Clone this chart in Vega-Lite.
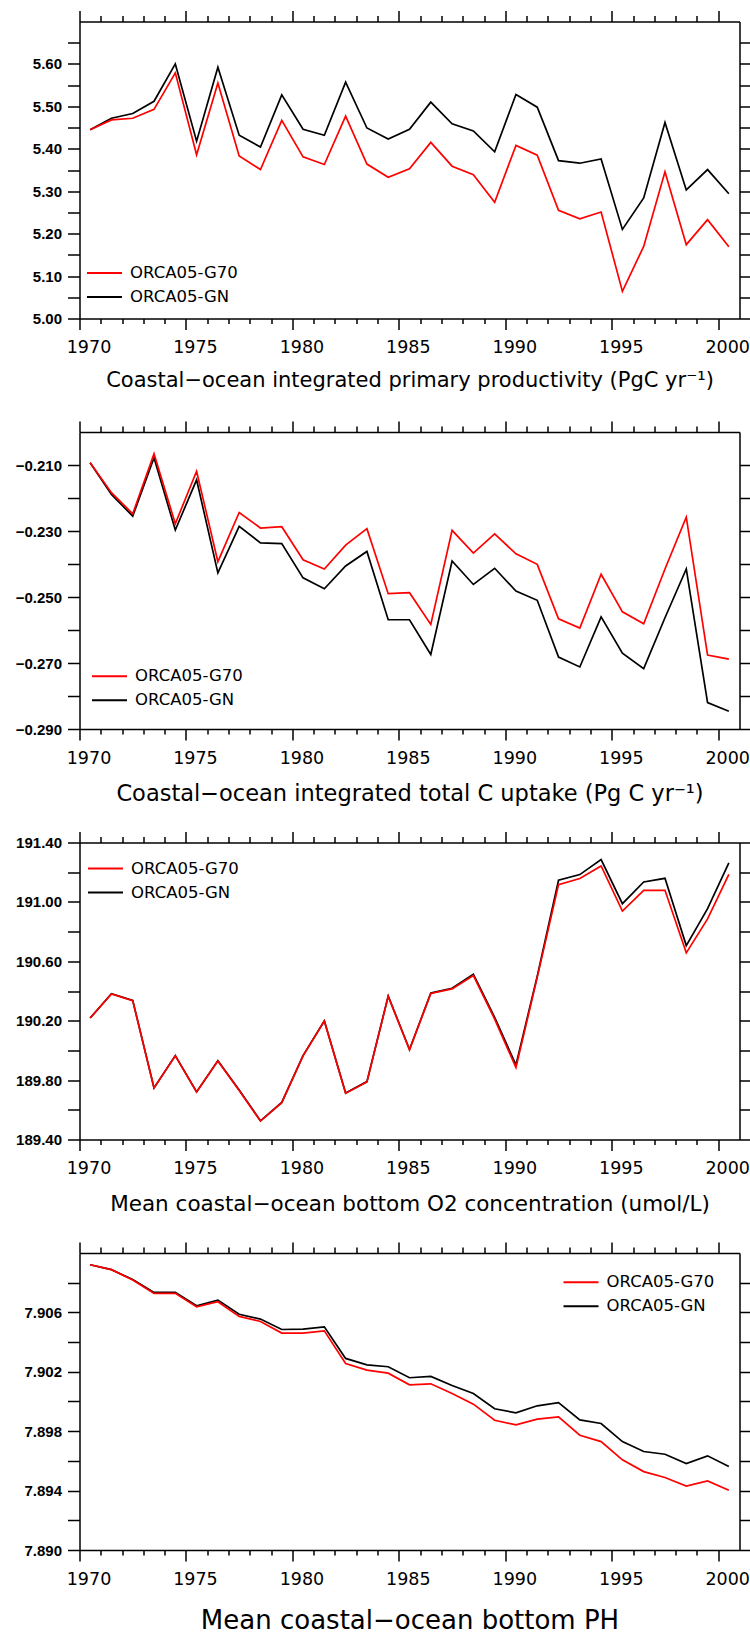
{
  "$schema": "https://vega.github.io/schema/vega-lite/v6.json",
  "padding": {"left": 14.5, "top": 9.5, "right": 0, "bottom": 0},
  "autosize": {"type": "pad"},
  "background": "white",
  "datasets": {
    "pp": [
      {"t": 1970.5, "ORCA05-G70": 5.445, "ORCA05-GN": 5.445},
      {"t": 1971.5, "ORCA05-G70": 5.468, "ORCA05-GN": 5.472},
      {"t": 1972.5, "ORCA05-G70": 5.472, "ORCA05-GN": 5.483},
      {"t": 1973.5, "ORCA05-G70": 5.493, "ORCA05-GN": 5.512},
      {"t": 1974.5, "ORCA05-G70": 5.579, "ORCA05-GN": 5.600},
      {"t": 1975.5, "ORCA05-G70": 5.386, "ORCA05-GN": 5.418},
      {"t": 1976.5, "ORCA05-G70": 5.555, "ORCA05-GN": 5.592},
      {"t": 1977.5, "ORCA05-G70": 5.383, "ORCA05-GN": 5.432},
      {"t": 1978.5, "ORCA05-G70": 5.351, "ORCA05-GN": 5.404},
      {"t": 1979.5, "ORCA05-G70": 5.467, "ORCA05-GN": 5.527},
      {"t": 1980.5, "ORCA05-G70": 5.381, "ORCA05-GN": 5.446},
      {"t": 1981.5, "ORCA05-G70": 5.363, "ORCA05-GN": 5.432},
      {"t": 1982.5, "ORCA05-G70": 5.477, "ORCA05-GN": 5.557},
      {"t": 1983.5, "ORCA05-G70": 5.364, "ORCA05-GN": 5.449},
      {"t": 1984.5, "ORCA05-G70": 5.333, "ORCA05-GN": 5.423},
      {"t": 1985.5, "ORCA05-G70": 5.353, "ORCA05-GN": 5.446},
      {"t": 1986.5, "ORCA05-G70": 5.415, "ORCA05-GN": 5.510},
      {"t": 1987.5, "ORCA05-G70": 5.359, "ORCA05-GN": 5.459},
      {"t": 1988.5, "ORCA05-G70": 5.339, "ORCA05-GN": 5.442},
      {"t": 1989.5, "ORCA05-G70": 5.274, "ORCA05-GN": 5.393},
      {"t": 1990.5, "ORCA05-G70": 5.408, "ORCA05-GN": 5.528},
      {"t": 1991.5, "ORCA05-G70": 5.385, "ORCA05-GN": 5.498},
      {"t": 1992.5, "ORCA05-G70": 5.255, "ORCA05-GN": 5.372},
      {"t": 1993.5, "ORCA05-G70": 5.235, "ORCA05-GN": 5.366},
      {"t": 1994.5, "ORCA05-G70": 5.251, "ORCA05-GN": 5.376},
      {"t": 1995.5, "ORCA05-G70": 5.064, "ORCA05-GN": 5.210},
      {"t": 1996.5, "ORCA05-G70": 5.170, "ORCA05-GN": 5.284},
      {"t": 1997.5, "ORCA05-G70": 5.346, "ORCA05-GN": 5.462},
      {"t": 1998.5, "ORCA05-G70": 5.174, "ORCA05-GN": 5.303},
      {"t": 1999.5, "ORCA05-G70": 5.233, "ORCA05-GN": 5.351},
      {"t": 2000.5, "ORCA05-G70": 5.169, "ORCA05-GN": 5.294}
    ],
    "cu": [
      {"t": 1970.5, "ORCA05-G70": -0.2093, "ORCA05-GN": -0.2093},
      {"t": 1971.5, "ORCA05-G70": -0.2184, "ORCA05-GN": -0.2189},
      {"t": 1972.5, "ORCA05-G70": -0.2248, "ORCA05-GN": -0.2255},
      {"t": 1973.5, "ORCA05-G70": -0.2066, "ORCA05-GN": -0.2078},
      {"t": 1974.5, "ORCA05-G70": -0.2278, "ORCA05-GN": -0.2297},
      {"t": 1975.5, "ORCA05-G70": -0.2119, "ORCA05-GN": -0.2145},
      {"t": 1976.5, "ORCA05-G70": -0.2393, "ORCA05-GN": -0.2427},
      {"t": 1977.5, "ORCA05-G70": -0.2244, "ORCA05-GN": -0.2286},
      {"t": 1978.5, "ORCA05-G70": -0.2291, "ORCA05-GN": -0.2336},
      {"t": 1979.5, "ORCA05-G70": -0.2287, "ORCA05-GN": -0.2338},
      {"t": 1980.5, "ORCA05-G70": -0.2387, "ORCA05-GN": -0.2442},
      {"t": 1981.5, "ORCA05-G70": -0.2415, "ORCA05-GN": -0.2475},
      {"t": 1982.5, "ORCA05-G70": -0.2343, "ORCA05-GN": -0.2406},
      {"t": 1983.5, "ORCA05-G70": -0.2293, "ORCA05-GN": -0.2362},
      {"t": 1984.5, "ORCA05-G70": -0.2490, "ORCA05-GN": -0.2569},
      {"t": 1985.5, "ORCA05-G70": -0.2487, "ORCA05-GN": -0.2569},
      {"t": 1986.5, "ORCA05-G70": -0.2583, "ORCA05-GN": -0.2674},
      {"t": 1987.5, "ORCA05-G70": -0.2298, "ORCA05-GN": -0.2391},
      {"t": 1988.5, "ORCA05-G70": -0.2367, "ORCA05-GN": -0.2462},
      {"t": 1989.5, "ORCA05-G70": -0.2309, "ORCA05-GN": -0.2413},
      {"t": 1990.5, "ORCA05-G70": -0.2369, "ORCA05-GN": -0.2482},
      {"t": 1991.5, "ORCA05-G70": -0.2401, "ORCA05-GN": -0.2510},
      {"t": 1992.5, "ORCA05-G70": -0.2566, "ORCA05-GN": -0.2682},
      {"t": 1993.5, "ORCA05-G70": -0.2594, "ORCA05-GN": -0.2712},
      {"t": 1994.5, "ORCA05-G70": -0.2431, "ORCA05-GN": -0.2560},
      {"t": 1995.5, "ORCA05-G70": -0.2545, "ORCA05-GN": -0.2670},
      {"t": 1996.5, "ORCA05-G70": -0.2581, "ORCA05-GN": -0.2717},
      {"t": 1997.5, "ORCA05-G70": -0.2415, "ORCA05-GN": -0.2563},
      {"t": 1998.5, "ORCA05-G70": -0.2258, "ORCA05-GN": -0.2415},
      {"t": 1999.5, "ORCA05-G70": -0.2676, "ORCA05-GN": -0.2820},
      {"t": 2000.5, "ORCA05-G70": -0.2688, "ORCA05-GN": -0.2846}
    ],
    "o2": [
      {"t": 1970.5, "ORCA05-G70": 190.218, "ORCA05-GN": 190.218},
      {"t": 1971.5, "ORCA05-G70": 190.380, "ORCA05-GN": 190.382},
      {"t": 1972.5, "ORCA05-G70": 190.335, "ORCA05-GN": 190.337},
      {"t": 1973.5, "ORCA05-G70": 189.747, "ORCA05-GN": 189.747},
      {"t": 1974.5, "ORCA05-G70": 189.963, "ORCA05-GN": 189.965},
      {"t": 1975.5, "ORCA05-G70": 189.720, "ORCA05-GN": 189.720},
      {"t": 1976.5, "ORCA05-G70": 189.929, "ORCA05-GN": 189.931},
      {"t": 1977.5, "ORCA05-G70": 189.730, "ORCA05-GN": 189.733},
      {"t": 1978.5, "ORCA05-G70": 189.524, "ORCA05-GN": 189.526},
      {"t": 1979.5, "ORCA05-G70": 189.648, "ORCA05-GN": 189.650},
      {"t": 1980.5, "ORCA05-G70": 189.963, "ORCA05-GN": 189.965},
      {"t": 1981.5, "ORCA05-G70": 190.197, "ORCA05-GN": 190.199},
      {"t": 1982.5, "ORCA05-G70": 189.711, "ORCA05-GN": 189.713},
      {"t": 1983.5, "ORCA05-G70": 189.787, "ORCA05-GN": 189.790},
      {"t": 1984.5, "ORCA05-G70": 190.364, "ORCA05-GN": 190.366},
      {"t": 1985.5, "ORCA05-G70": 190.004, "ORCA05-GN": 190.006},
      {"t": 1986.5, "ORCA05-G70": 190.384, "ORCA05-GN": 190.386},
      {"t": 1987.5, "ORCA05-G70": 190.414, "ORCA05-GN": 190.418},
      {"t": 1988.5, "ORCA05-G70": 190.504, "ORCA05-GN": 190.513},
      {"t": 1989.5, "ORCA05-G70": 190.211, "ORCA05-GN": 190.222},
      {"t": 1990.5, "ORCA05-G70": 189.884, "ORCA05-GN": 189.902},
      {"t": 1991.5, "ORCA05-G70": 190.492, "ORCA05-GN": 190.500},
      {"t": 1992.5, "ORCA05-G70": 191.116, "ORCA05-GN": 191.146},
      {"t": 1993.5, "ORCA05-G70": 191.157, "ORCA05-GN": 191.184},
      {"t": 1994.5, "ORCA05-G70": 191.242, "ORCA05-GN": 191.285},
      {"t": 1995.5, "ORCA05-G70": 190.938, "ORCA05-GN": 190.988},
      {"t": 1996.5, "ORCA05-G70": 191.078, "ORCA05-GN": 191.134},
      {"t": 1997.5, "ORCA05-G70": 191.078, "ORCA05-GN": 191.159},
      {"t": 1998.5, "ORCA05-G70": 190.657, "ORCA05-GN": 190.706},
      {"t": 1999.5, "ORCA05-G70": 190.886, "ORCA05-GN": 190.954},
      {"t": 2000.5, "ORCA05-G70": 191.186, "ORCA05-GN": 191.263}
    ],
    "ph": [
      {"t": 1970.5, "ORCA05-G70": 7.90921, "ORCA05-GN": 7.90921},
      {"t": 1971.5, "ORCA05-G70": 7.90888, "ORCA05-GN": 7.90888},
      {"t": 1972.5, "ORCA05-G70": 7.90818, "ORCA05-GN": 7.90822},
      {"t": 1973.5, "ORCA05-G70": 7.90728, "ORCA05-GN": 7.90735},
      {"t": 1974.5, "ORCA05-G70": 7.90728, "ORCA05-GN": 7.90735},
      {"t": 1975.5, "ORCA05-G70": 7.90638, "ORCA05-GN": 7.90645},
      {"t": 1976.5, "ORCA05-G70": 7.90672, "ORCA05-GN": 7.90683},
      {"t": 1977.5, "ORCA05-G70": 7.90573, "ORCA05-GN": 7.90587},
      {"t": 1978.5, "ORCA05-G70": 7.90539, "ORCA05-GN": 7.90555},
      {"t": 1979.5, "ORCA05-G70": 7.90461, "ORCA05-GN": 7.90485},
      {"t": 1980.5, "ORCA05-G70": 7.90461, "ORCA05-GN": 7.90488},
      {"t": 1981.5, "ORCA05-G70": 7.90476, "ORCA05-GN": 7.90503},
      {"t": 1982.5, "ORCA05-G70": 7.90256, "ORCA05-GN": 7.90290},
      {"t": 1983.5, "ORCA05-G70": 7.90211, "ORCA05-GN": 7.90247},
      {"t": 1984.5, "ORCA05-G70": 7.90191, "ORCA05-GN": 7.90234},
      {"t": 1985.5, "ORCA05-G70": 7.90112, "ORCA05-GN": 7.90160},
      {"t": 1986.5, "ORCA05-G70": 7.90119, "ORCA05-GN": 7.90169},
      {"t": 1987.5, "ORCA05-G70": 7.90054, "ORCA05-GN": 7.90108},
      {"t": 1988.5, "ORCA05-G70": 7.89982, "ORCA05-GN": 7.90054},
      {"t": 1989.5, "ORCA05-G70": 7.89874, "ORCA05-GN": 7.89951},
      {"t": 1990.5, "ORCA05-G70": 7.89843, "ORCA05-GN": 7.89924},
      {"t": 1991.5, "ORCA05-G70": 7.89881, "ORCA05-GN": 7.89971},
      {"t": 1992.5, "ORCA05-G70": 7.89897, "ORCA05-GN": 7.89993},
      {"t": 1993.5, "ORCA05-G70": 7.89773, "ORCA05-GN": 7.89876},
      {"t": 1994.5, "ORCA05-G70": 7.89730, "ORCA05-GN": 7.89852},
      {"t": 1995.5, "ORCA05-G70": 7.89607, "ORCA05-GN": 7.89730},
      {"t": 1996.5, "ORCA05-G70": 7.89528, "ORCA05-GN": 7.89663},
      {"t": 1997.5, "ORCA05-G70": 7.89488, "ORCA05-GN": 7.89645},
      {"t": 1998.5, "ORCA05-G70": 7.89431, "ORCA05-GN": 7.89582},
      {"t": 1999.5, "ORCA05-G70": 7.89465, "ORCA05-GN": 7.89634},
      {"t": 2000.5, "ORCA05-G70": 7.89402, "ORCA05-GN": 7.89562}
    ]
  },
  "spacing": 113.5,
  "bounds": "flush",
  "resolve": {"scale": {"color": "independent"}},
  "vconcat": [
    {
      "width": 660, "height": 297,
      "data": {"name": "pp"},
      "transform": [{"fold": ["ORCA05-G70", "ORCA05-GN"], "as": ["series", "v"]}],
      "resolve": {"axis": {"x": "independent", "y": "independent"}},
      "layer": [
        {
          "transform": [{"filter": "datum.series === 'ORCA05-GN'"}],
          "mark": {"type": "line", "strokeWidth": 1.7},
          "encoding": {
            "x": {"field": "t", "type": "quantitative", "scale": {"domain": [1970, 2001], "nice": false, "zero": false},
              "axis": {"orient": "bottom", "values": [1970,1971,1972,1973,1974,1975,1976,1977,1978,1979,1980,1981,1982,1983,1984,1985,1986,1987,1988,1989,1990,1991,1992,1993,1994,1995,1996,1997,1998,1999,2000], "format": "d",
                "tickSize": {"condition": {"test": "datum.value % 5 === 0", "value": 11}, "value": 5},
                "labelExpr": "datum.value % 5 === 0 ? datum.label : ''",
                "labelFont": "DejaVu Sans", "labelFontSize": 17.5, "labelPadding": 9, "labelOffset": 9,
                "title": "Coastal−ocean integrated primary productivity (PgC yr⁻¹)", "titleFont": "DejaVu Sans", "titleFontSize": 21, "titleFontWeight": "normal", "titleColor": "black", "titleY": 68, "titleBaseline": "alphabetic"}},
            "y": {"field": "v", "type": "quantitative", "scale": {"domain": [5.0, 5.7], "nice": false, "zero": false},
              "axis": {"orient": "left", "values": [5.0,5.05,5.1,5.15,5.2,5.25,5.3,5.35,5.4,5.45,5.5,5.55,5.6,5.65], "tickSize": 12,
                "labelExpr": "round(datum.value*100) % 10 === 0 ? format(datum.value, '.2f') : ''",
                "labelFont": "Liberation Sans", "labelFontSize": 15, "labelFontWeight": "bold", "labelPadding": 6, "title": null}},
            "color": {"field": "series", "type": "nominal", "scale": {"domain": ["ORCA05-G70", "ORCA05-GN"], "range": ["#ff0000", "#000000"]},
              "legend": {"orient": "none", "legendX": 6.5, "legendY": 239.8, "title": null, "symbolType": "stroke", "symbolSize": 1225, "symbolStrokeWidth": 2, "clipHeight": 23.3, "labelFont": "DejaVu Sans", "labelFontSize": 16.5, "labelColor": "black", "labelOffset": 7, "padding": 0, "rowPadding": 0}}
          }
        },
        {
          "transform": [{"filter": "datum.series === 'ORCA05-G70'"}],
          "mark": {"type": "line", "strokeWidth": 1.7},
          "encoding": {
            "x": {"field": "t", "type": "quantitative",
              "axis": {"orient": "top", "values": [1970,1971,1972,1973,1974,1975,1976,1977,1978,1979,1980,1981,1982,1983,1984,1985,1986,1987,1988,1989,1990,1991,1992,1993,1994,1995,1996,1997,1998,1999,2000],
                "tickSize": {"condition": {"test": "datum.value % 5 === 0", "value": 11}, "value": 6}, "labels": false, "title": null}},
            "y": {"field": "v", "type": "quantitative",
              "axis": {"orient": "right", "values": [5.0,5.05,5.1,5.15,5.2,5.25,5.3,5.35,5.4,5.45,5.5,5.55,5.6,5.65], "tickSize": 11, "labels": false, "title": null}},
            "color": {"field": "series", "type": "nominal"}
          }
        }
      ]
    },
    {
      "width": 660, "height": 297,
      "data": {"name": "cu"},
      "transform": [{"fold": ["ORCA05-G70", "ORCA05-GN"], "as": ["series", "v"]}],
      "resolve": {"axis": {"x": "independent", "y": "independent"}},
      "layer": [
        {
          "transform": [{"filter": "datum.series === 'ORCA05-GN'"}],
          "mark": {"type": "line", "strokeWidth": 1.7},
          "encoding": {
            "x": {"field": "t", "type": "quantitative", "scale": {"domain": [1970, 2001], "nice": false, "zero": false},
              "axis": {"orient": "bottom", "values": [1970,1971,1972,1973,1974,1975,1976,1977,1978,1979,1980,1981,1982,1983,1984,1985,1986,1987,1988,1989,1990,1991,1992,1993,1994,1995,1996,1997,1998,1999,2000], "format": "d",
                "tickSize": {"condition": {"test": "datum.value % 5 === 0", "value": 11}, "value": 5},
                "labelExpr": "datum.value % 5 === 0 ? datum.label : ''",
                "labelFont": "DejaVu Sans", "labelFontSize": 17.5, "labelPadding": 9, "labelOffset": 9,
                "title": "Coastal−ocean integrated total C uptake (Pg C yr⁻¹)", "titleFont": "DejaVu Sans", "titleFontSize": 22.5, "titleFontWeight": "normal", "titleColor": "black", "titleY": 71, "titleBaseline": "alphabetic"}},
            "y": {"field": "v", "type": "quantitative", "scale": {"domain": [-0.29, -0.2], "nice": false, "zero": false},
              "axis": {"orient": "left", "values": [-0.29,-0.28,-0.27,-0.26,-0.25,-0.24,-0.23,-0.22,-0.21], "tickSize": 12,
                "labelExpr": "abs(round(datum.value*100)) % 2 === 1 ? format(datum.value, '.3f') : ''",
                "labelFont": "Liberation Sans", "labelFontSize": 15, "labelFontWeight": "bold", "labelPadding": 6, "title": null}},
            "color": {"field": "series", "type": "nominal", "scale": {"domain": ["ORCA05-G70", "ORCA05-GN"], "range": ["#ff0000", "#000000"]},
              "legend": {"orient": "none", "legendX": 11.5, "legendY": 232.2, "title": null, "symbolType": "stroke", "symbolSize": 1225, "symbolStrokeWidth": 2, "clipHeight": 24, "labelFont": "DejaVu Sans", "labelFontSize": 16.5, "labelColor": "black", "labelOffset": 7, "padding": 0, "rowPadding": 0}}
          }
        },
        {
          "transform": [{"filter": "datum.series === 'ORCA05-G70'"}],
          "mark": {"type": "line", "strokeWidth": 1.7},
          "encoding": {
            "x": {"field": "t", "type": "quantitative",
              "axis": {"orient": "top", "values": [1970,1971,1972,1973,1974,1975,1976,1977,1978,1979,1980,1981,1982,1983,1984,1985,1986,1987,1988,1989,1990,1991,1992,1993,1994,1995,1996,1997,1998,1999,2000],
                "tickSize": {"condition": {"test": "datum.value % 5 === 0", "value": 11}, "value": 6}, "labels": false, "title": null}},
            "y": {"field": "v", "type": "quantitative",
              "axis": {"orient": "right", "values": [-0.29,-0.28,-0.27,-0.26,-0.25,-0.24,-0.23,-0.22,-0.21], "tickSize": 11, "labels": false, "title": null}},
            "color": {"field": "series", "type": "nominal"}
          }
        }
      ]
    },
    {
      "width": 660, "height": 297,
      "data": {"name": "o2"},
      "transform": [{"fold": ["ORCA05-G70", "ORCA05-GN"], "as": ["series", "v"]}],
      "resolve": {"axis": {"x": "independent", "y": "independent"}},
      "layer": [
        {
          "transform": [{"filter": "datum.series === 'ORCA05-GN'"}],
          "mark": {"type": "line", "strokeWidth": 1.7},
          "encoding": {
            "x": {"field": "t", "type": "quantitative", "scale": {"domain": [1970, 2001], "nice": false, "zero": false},
              "axis": {"orient": "bottom", "values": [1970,1971,1972,1973,1974,1975,1976,1977,1978,1979,1980,1981,1982,1983,1984,1985,1986,1987,1988,1989,1990,1991,1992,1993,1994,1995,1996,1997,1998,1999,2000], "format": "d",
                "tickSize": {"condition": {"test": "datum.value % 5 === 0", "value": 11}, "value": 5},
                "labelExpr": "datum.value % 5 === 0 ? datum.label : ''",
                "labelFont": "DejaVu Sans", "labelFontSize": 17.5, "labelPadding": 9, "labelOffset": 9,
                "title": "Mean coastal−ocean bottom O2 concentration (umol/L)", "titleFont": "DejaVu Sans", "titleFontSize": 21.5, "titleFontWeight": "normal", "titleColor": "black", "titleY": 71, "titleBaseline": "alphabetic"}},
            "y": {"field": "v", "type": "quantitative", "scale": {"domain": [189.4, 191.4], "nice": false, "zero": false},
              "axis": {"orient": "left", "values": [189.4,189.6,189.8,190.0,190.2,190.4,190.6,190.8,191.0,191.2,191.4], "tickSize": 12,
                "labelExpr": "round(datum.value*10) % 4 === 2 ? format(datum.value, '.2f') : ''",
                "labelFont": "Liberation Sans", "labelFontSize": 15, "labelFontWeight": "bold", "labelPadding": 6, "title": null}},
            "color": {"field": "series", "type": "nominal", "scale": {"domain": ["ORCA05-G70", "ORCA05-GN"], "range": ["#ff0000", "#000000"]},
              "legend": {"orient": "none", "legendX": 7.5, "legendY": 14.4, "title": null, "symbolType": "stroke", "symbolSize": 1225, "symbolStrokeWidth": 2, "clipHeight": 23.3, "labelFont": "DejaVu Sans", "labelFontSize": 16.5, "labelColor": "black", "labelOffset": 7, "padding": 0, "rowPadding": 0}}
          }
        },
        {
          "transform": [{"filter": "datum.series === 'ORCA05-G70'"}],
          "mark": {"type": "line", "strokeWidth": 1.7},
          "encoding": {
            "x": {"field": "t", "type": "quantitative",
              "axis": {"orient": "top", "values": [1970,1971,1972,1973,1974,1975,1976,1977,1978,1979,1980,1981,1982,1983,1984,1985,1986,1987,1988,1989,1990,1991,1992,1993,1994,1995,1996,1997,1998,1999,2000],
                "tickSize": {"condition": {"test": "datum.value % 5 === 0", "value": 11}, "value": 6}, "labels": false, "title": null}},
            "y": {"field": "v", "type": "quantitative",
              "axis": {"orient": "right", "values": [189.4,189.6,189.8,190.0,190.2,190.4,190.6,190.8,191.0,191.2,191.4], "tickSize": 11, "labels": false, "title": null}},
            "color": {"field": "series", "type": "nominal"}
          }
        }
      ]
    },
    {
      "width": 660, "height": 297,
      "data": {"name": "ph"},
      "transform": [{"fold": ["ORCA05-G70", "ORCA05-GN"], "as": ["series", "v"]}],
      "resolve": {"axis": {"x": "independent", "y": "independent"}},
      "layer": [
        {
          "transform": [{"filter": "datum.series === 'ORCA05-GN'"}],
          "mark": {"type": "line", "strokeWidth": 1.7},
          "encoding": {
            "x": {"field": "t", "type": "quantitative", "scale": {"domain": [1970, 2001], "nice": false, "zero": false},
              "axis": {"orient": "bottom", "values": [1970,1971,1972,1973,1974,1975,1976,1977,1978,1979,1980,1981,1982,1983,1984,1985,1986,1987,1988,1989,1990,1991,1992,1993,1994,1995,1996,1997,1998,1999,2000], "format": "d",
                "tickSize": {"condition": {"test": "datum.value % 5 === 0", "value": 11}, "value": 5},
                "labelExpr": "datum.value % 5 === 0 ? datum.label : ''",
                "labelFont": "DejaVu Sans", "labelFontSize": 17.5, "labelPadding": 9, "labelOffset": 9,
                "title": "Mean coastal−ocean bottom PH", "titleFont": "DejaVu Sans", "titleFontSize": 26, "titleFontWeight": "normal", "titleColor": "black", "titleY": 78, "titleBaseline": "alphabetic"}},
            "y": {"field": "v", "type": "quantitative", "scale": {"domain": [7.89, 7.91], "nice": false, "zero": false},
              "axis": {"orient": "left", "values": [7.89,7.892,7.894,7.896,7.898,7.9,7.902,7.904,7.906,7.908], "tickSize": 12,
                "labelExpr": "round(datum.value*1000) % 4 === 2 ? format(datum.value, '.3f') : ''",
                "labelFont": "Liberation Sans", "labelFontSize": 15, "labelFontWeight": "bold", "labelPadding": 6, "title": null}},
            "color": {"field": "series", "type": "nominal", "scale": {"domain": ["ORCA05-G70", "ORCA05-GN"], "range": ["#ff0000", "#000000"]},
              "legend": {"orient": "none", "legendX": 483, "legendY": 17.7, "title": null, "symbolType": "stroke", "symbolSize": 1225, "symbolStrokeWidth": 2, "clipHeight": 23.3, "labelFont": "DejaVu Sans", "labelFontSize": 16.5, "labelColor": "black", "labelOffset": 7, "padding": 0, "rowPadding": 0}}
          }
        },
        {
          "transform": [{"filter": "datum.series === 'ORCA05-G70'"}],
          "mark": {"type": "line", "strokeWidth": 1.7},
          "encoding": {
            "x": {"field": "t", "type": "quantitative",
              "axis": {"orient": "top", "values": [1970,1971,1972,1973,1974,1975,1976,1977,1978,1979,1980,1981,1982,1983,1984,1985,1986,1987,1988,1989,1990,1991,1992,1993,1994,1995,1996,1997,1998,1999,2000],
                "tickSize": {"condition": {"test": "datum.value % 5 === 0", "value": 11}, "value": 6}, "labels": false, "title": null}},
            "y": {"field": "v", "type": "quantitative",
              "axis": {"orient": "right", "values": [7.89,7.892,7.894,7.896,7.898,7.9,7.902,7.904,7.906,7.908], "tickSize": 11, "labels": false, "title": null}},
            "color": {"field": "series", "type": "nominal"}
          }
        }
      ]
    }
  ],
  "config": {
    "view": {"stroke": null},
    "axis": {"domainColor": "black", "domainWidth": 1.5, "tickColor": "black", "tickWidth": 1.5, "grid": false, "labelColor": "black", "labelOverlap": false, "labelFlush": false, "labelBound": false}
  }
}
